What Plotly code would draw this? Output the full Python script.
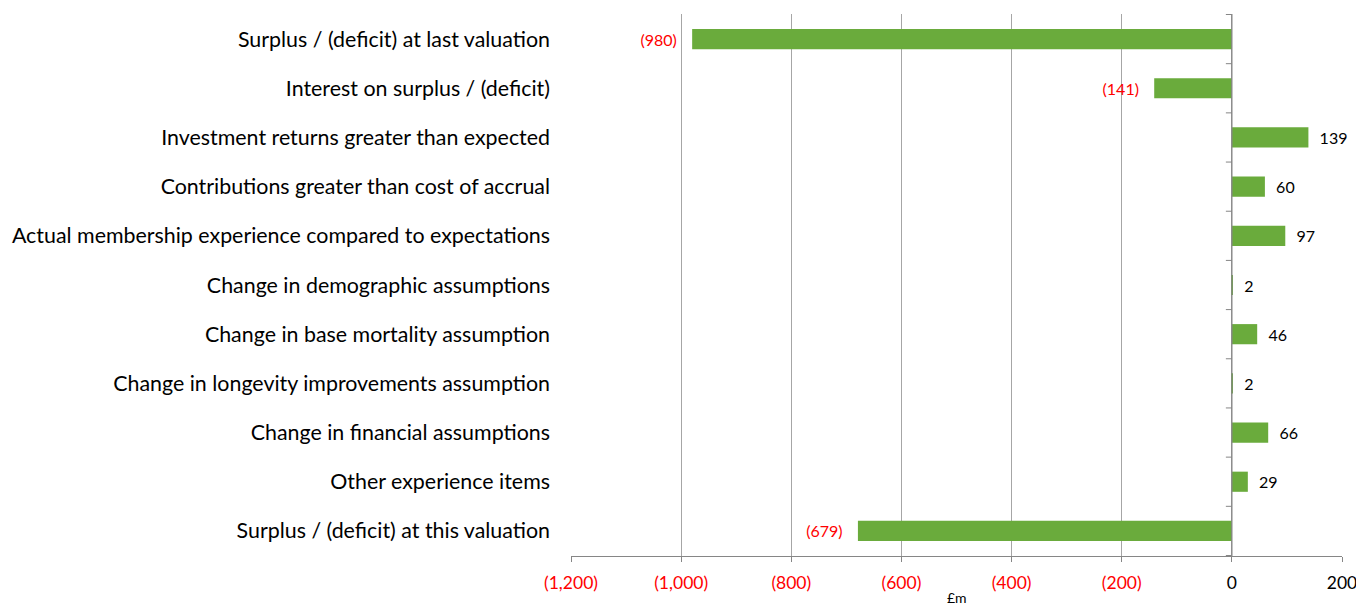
import plotly.graph_objects as go

categories = [
    "Surplus / (deficit) at last valuation",
    "Interest on surplus / (deficit)",
    "Investment returns greater than expected",
    "Contributions greater than cost of accrual",
    "Actual membership experience compared to expectations",
    "Change in demographic assumptions",
    "Change in base mortality assumption",
    "Change in longevity improvements assumption",
    "Change in financial assumptions",
    "Other experience items",
    "Surplus / (deficit) at this valuation",
]
values = [-980, -141, 139, 60, 97, 2, 46, 2, 66, 29, -679]
tick_vals = [-1200, -1000, -800, -600, -400, -200, 0, 200]
axis_title = "£m"

def fmt(v):
    s = f"{abs(v):,}"
    return f"({s})" if v < 0 else s

labels = [(fmt(v) + "   ") if v < 0 else ("  " + fmt(v)) for v in values]
label_colors = ["#ff0000" if v < 0 else "#000000" for v in values]
tick_text = [
    (f"<span style='color:#ff0000'>{fmt(t)}</span>" if t < 0 else fmt(t)) for t in tick_vals
]

FONT = "Lato"

fig = go.Figure()
fig.add_trace(go.Bar(
    y=categories, x=values, orientation="h",
    marker=dict(color="#6aab3c", line=dict(width=0)),
    width=0.41,
    text=labels, textposition="outside",
    textfont=dict(color=label_colors, size=16, family=FONT),
    cliponaxis=False,
    hoverinfo="skip",
))

shapes = []
for i in range(len(categories) + 1):
    shapes.append(dict(type="line", xref="x", yref="y", xsizemode="pixel", xanchor=0,
                       x0=-6, x1=0, y0=i - 0.5, y1=i - 0.5,
                       line=dict(color="#868686", width=1)))
shapes.append(dict(type="line", xref="x", yref="paper", x0=0, x1=0, y0=0, y1=1,
                   line=dict(color="#868686", width=1.3)))
fig.update_layout(shapes=shapes)

fig.add_annotation(text=axis_title, xref="paper", yref="paper", x=0.5, y=0,
                   yshift=-41, yanchor="middle", showarrow=False,
                   font=dict(size=14, family=FONT, color="#000000"))

fig.update_layout(
    width=1348, height=598,
    margin=dict(l=563, r=14, t=6, b=50),
    paper_bgcolor="white", plot_bgcolor="white",
    showlegend=False,
    font=dict(family=FONT, color="#000000"),
    xaxis=dict(
        range=[-1200, 200], tickvals=tick_vals, ticktext=tick_text,
        showgrid=True, gridcolor="#a6a6a6", gridwidth=1,
        zeroline=False, automargin=False,
        showline=True, linecolor="#868686", linewidth=1,
        ticks="outside", ticklen=5, tickcolor="#868686",
        tickfont=dict(size=17.5, family=FONT),
        ticklabelstandoff=6, ticklabeloverflow="allow",
    ),
    yaxis=dict(
        autorange="reversed", showgrid=False, zeroline=False, showline=False,
        automargin=False,
        ticks="", tickfont=dict(size=21.4, family=FONT),
        ticklabelstandoff=20,
    ),
)

fig.write_html("out.html")
